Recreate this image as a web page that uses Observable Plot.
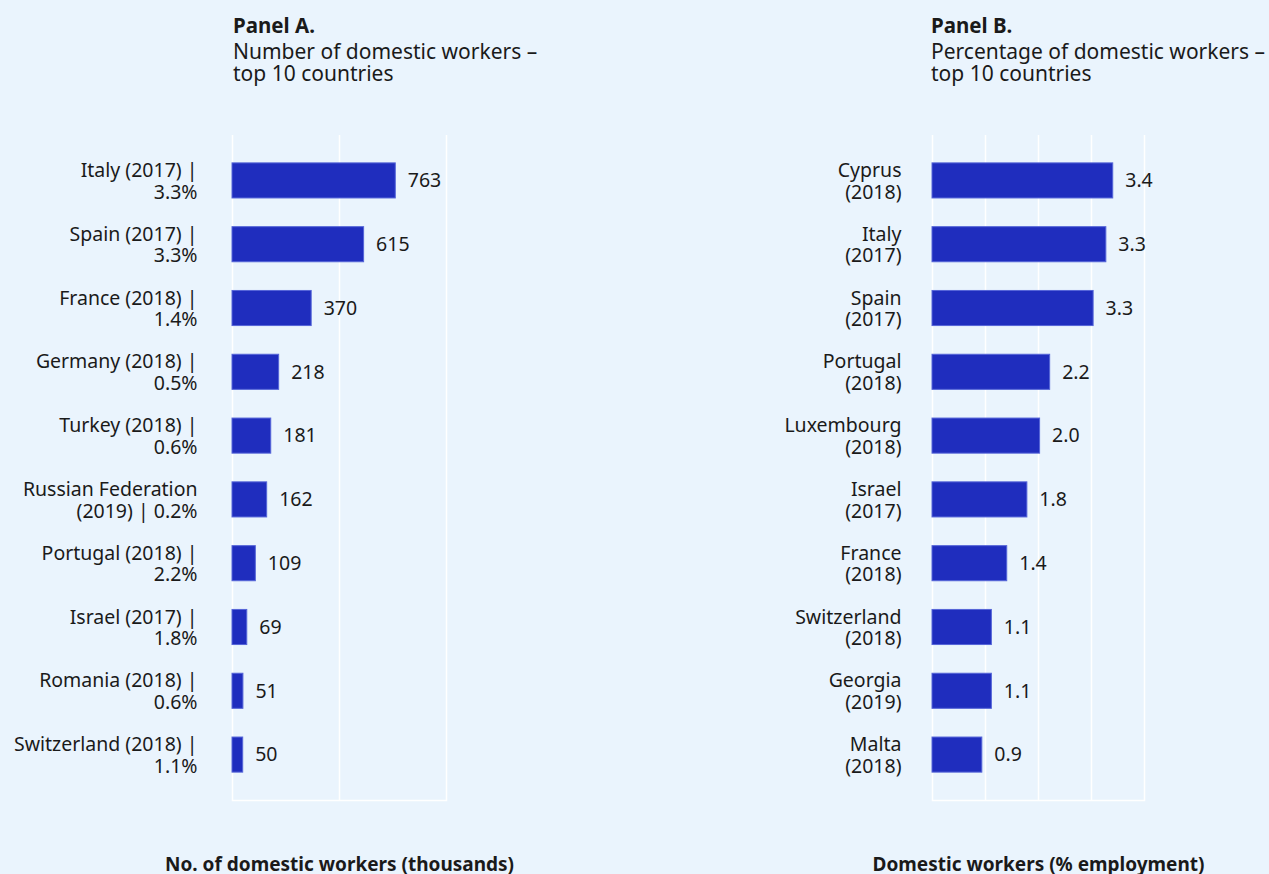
<!DOCTYPE html>
<html>
<head>
<meta charset="utf-8">
<script src="https://cdn.jsdelivr.net/npm/d3@7"></script>
<script src="https://cdn.jsdelivr.net/npm/@observablehq/plot@0.6"></script>
<style>
  html, body { margin: 0; padding: 0; background: #eaf4fd; }
  #wrap { position: relative; width: 1269px; height: 874px; overflow: hidden; background: #eaf4fd; font-family: "Noto Sans", sans-serif; color: #1a1a1a; }
  .head { position: absolute; top: 14px; font-size: 20.5px; line-height: 22px; font-weight: 700; white-space: nowrap; }
  .sub { position: absolute; top: 41px; font-size: 21px; line-height: 21.8px; white-space: nowrap; }
  .panel { position: absolute; top: 0; }
</style>
</head>
<body>
<div id="wrap">
  <div class="head" style="left:233px">Panel A.</div>
  <div class="sub" style="left:233px">Number of domestic workers –<br>top 10 countries</div>
  <div class="head" style="left:931px">Panel B.</div>
  <div class="sub" style="left:931px">Percentage of domestic workers –<br>top 10 countries</div>
  <div class="panel" id="pa" style="left:0px"></div>
  <div class="panel" id="pb" style="left:634px"></div>
</div>
<script>
// Panel A data
const countriesA = [
  "Italy (2017) |\n3.3%",
  "Spain (2017) |\n3.3%",
  "France (2018) |\n1.4%",
  "Germany (2018) |\n0.5%",
  "Turkey (2018) |\n0.6%",
  "Russian Federation\n(2019) | 0.2%",
  "Portugal (2018) |\n2.2%",
  "Israel (2017) |\n1.8%",
  "Romania (2018) |\n0.6%",
  "Switzerland (2018) |\n1.1%"
];
const workersA = [763, 615, 370, 218, 181, 162, 109, 69, 51, 50];
const gridA = [0, 500, 1000];
const axisLabelA = "No. of domestic workers (thousands)";

// Panel B data
const countriesB = [
  "Cyprus\n(2018)",
  "Italy\n(2017)",
  "Spain\n(2017)",
  "Portugal\n(2018)",
  "Luxembourg\n(2018)",
  "Israel\n(2017)",
  "France\n(2018)",
  "Switzerland\n(2018)",
  "Georgia\n(2019)",
  "Malta\n(2018)"
];
const shareB = [3.41, 3.28, 3.04, 2.22, 2.03, 1.79, 1.41, 1.12, 1.12, 0.94];
const shareLabelsB = ["3.4", "3.3", "3.3", "2.2", "2.0", "1.8", "1.4", "1.1", "1.1", "0.9"];
const gridB = [0, 1, 2, 3, 4];
const axisLabelB = "Domestic workers (% employment)";

const BAR = "#1f2dbe";
const BAR_EDGE = "#5565d8";
const TEXT = "#1a1a1a";
const FS = 19.5;

function panel({cats, values, labels, grid, domain, axisLabel, width, marginLeft, marginRight, tickPadding}) {
  const data = cats.map((c, i) => ({cat: c, v: values[i], lab: labels[i]}));
  return Plot.plot({
    width,
    height: 874,
    marginTop: 135,
    marginBottom: 74,
    marginLeft,
    marginRight,
    style: {background: "transparent", fontFamily: "Noto Sans", fontSize: FS + "px", color: TEXT, overflow: "visible"},
    x: {domain, axis: null},
    y: {domain: cats, paddingInner: 0.45, paddingOuter: 0.437, round: false, axis: null},
    marks: [
      Plot.gridX(grid, {stroke: "white", strokeOpacity: 1, strokeWidth: 1.5}),
      Plot.frame({anchor: "bottom", stroke: "white", strokeWidth: 1.5}),
      Plot.barX(data, {x: "v", y: "cat", fill: BAR, stroke: BAR_EDGE, strokeWidth: 1}),
      Plot.text(data, {x: "v", y: "cat", text: "lab", dx: 12, textAnchor: "start", fontSize: FS, fill: TEXT}),
      Plot.axisY({tickSize: 0, tickPadding, fontSize: FS, lineHeight: 21.6 / FS, label: null, fill: TEXT}),
      Plot.text([axisLabel], {frameAnchor: "bottom", dy: 70, fontSize: 19, fontWeight: "bold", fill: TEXT, textAnchor: "middle"})
    ]
  });
}

document.getElementById("pa").append(panel({
  cats: countriesA, values: workersA, labels: workersA.map(String), grid: gridA,
  domain: [0, 1000], axisLabel: axisLabelA,
  width: 634, marginLeft: 232, marginRight: 188, tickPadding: 35
}));

document.getElementById("pb").append(panel({
  cats: countriesB, values: shareB, labels: shareLabelsB, grid: gridB,
  domain: [0, 4], axisLabel: axisLabelB,
  width: 635, marginLeft: 298, marginRight: 125, tickPadding: 31
}));
</script>
</body>
</html>
